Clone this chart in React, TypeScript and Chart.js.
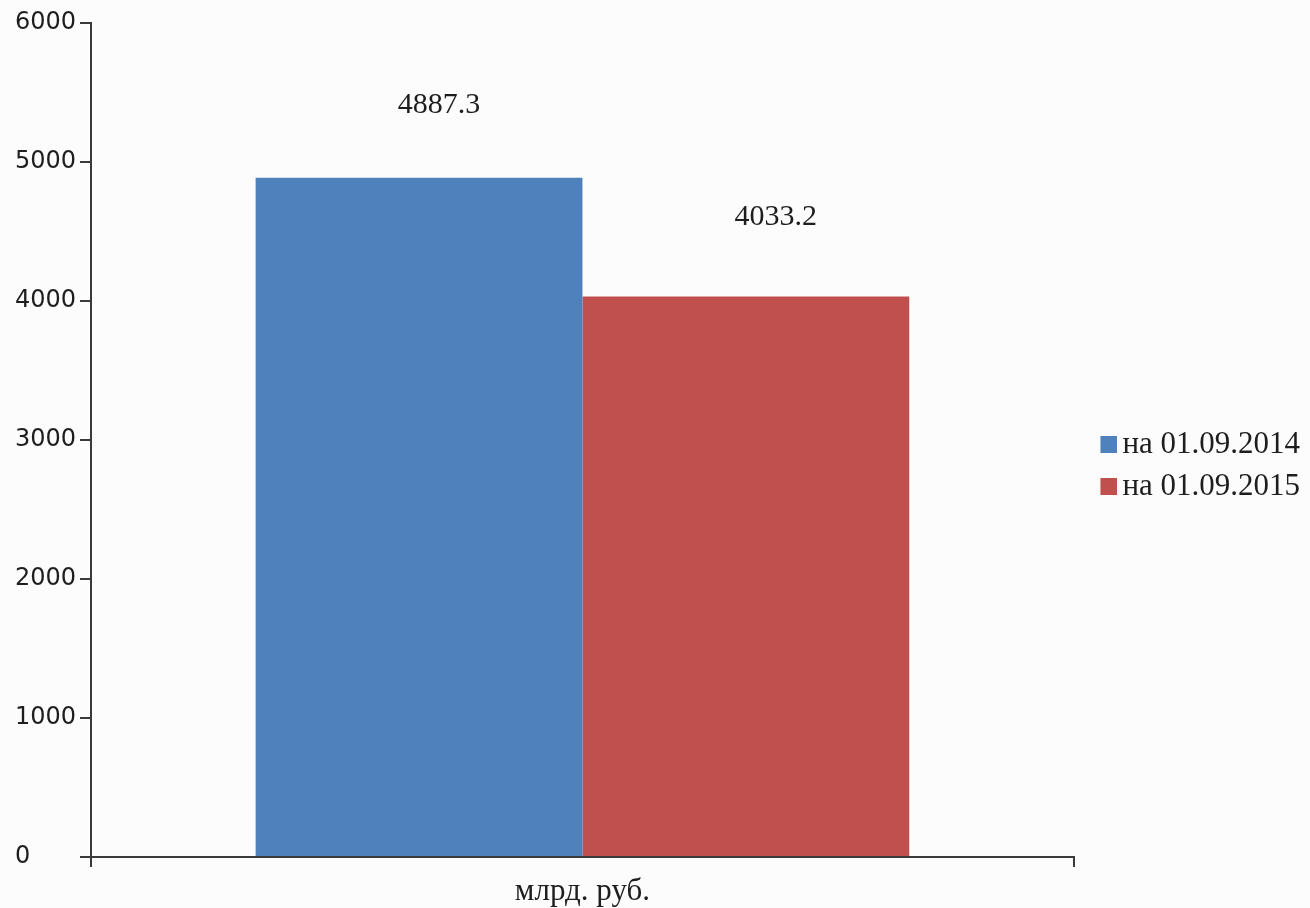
import React, { useEffect, useRef } from "react";
import { Chart, registerables } from "chart.js";

Chart.register(...registerables);

const categories = ["млрд. руб."];
const seriesLabels = ["на 01.09.2014", "на 01.09.2015"];
const series2014 = [4887.3];
const series2015 = [4033.2];
const seriesColors = ["#4F81BD", "#C0504D"];
const yTicks = [0, 1000, 2000, 3000, 4000, 5000, 6000];

const AXIS_COLOR = "#3a3a3a";
const TEXT_COLOR = "#1e1e1e";
const SERIF = "'Liberation Serif', 'Times New Roman', serif";
const SANS = "'DejaVu Sans', Verdana, sans-serif";

function makeSwatch(color: string): HTMLCanvasElement {
  const c = document.createElement("canvas");
  c.width = 21;
  c.height = 17;
  const g = c.getContext("2d")!;
  g.fillStyle = color;
  g.fillRect(4, 0, 17, 17);
  return c;
}

const labelOffsets = [
  { dx: 20, dy: 73 },
  { dx: 30, dy: 79 },
];

const valueLabelPlugin = {
  id: "valueLabels",
  afterDatasetsDraw(chart: any) {
    const ctx = chart.ctx;
    ctx.save();
    ctx.font = `30px ${SERIF}`;
    ctx.fillStyle = TEXT_COLOR;
    ctx.textAlign = "center";
    ctx.textBaseline = "middle";
    chart.data.datasets.forEach((ds: any, di: number) => {
      const meta = chart.getDatasetMeta(di);
      meta.data.forEach((bar: any, i: number) => {
        const v = ds.data[i] as number;
        const off = labelOffsets[di] || { dx: 0, dy: 76 };
        ctx.fillText(v.toFixed(1), bar.x + off.dx, bar.y - off.dy);
      });
    });
    ctx.restore();
  },
};

export default function App() {
  const ref = useRef<HTMLCanvasElement | null>(null);

  useEffect(() => {
    if (!ref.current) return;
    const swatches = seriesColors.map(makeSwatch);
    const chart = new Chart(ref.current, {
      type: "bar",
      data: {
        labels: categories,
        datasets: [
          {
            label: seriesLabels[0],
            data: series2014,
            backgroundColor: seriesColors[0],
            borderWidth: 0,
            categoryPercentage: 0.665,
            barPercentage: 1,
          },
          {
            label: seriesLabels[1],
            data: series2015,
            backgroundColor: seriesColors[1],
            borderWidth: 0,
            categoryPercentage: 0.665,
            barPercentage: 1,
          },
        ],
      },
      options: {
        animation: false,
        responsive: true,
        maintainAspectRatio: false,
        layout: { padding: { top: 23, right: 0, bottom: 0, left: 15 } },
        plugins: {
          tooltip: { enabled: false },
          legend: {
            position: "right",
            align: "center",
            labels: {
              usePointStyle: true,
              boxWidth: 0.01,
              boxHeight: 17,
              padding: 11,
              color: TEXT_COLOR,
              font: { family: SERIF, size: 31 },
              generateLabels: (ch: any) =>
                ch.data.datasets.map((ds: any, i: number) => ({
                  text: ds.label,
                  fillStyle: seriesColors[i],
                  strokeStyle: seriesColors[i],
                  lineWidth: 0,
                  pointStyle: swatches[i],
                  hidden: false,
                  datasetIndex: i,
                  fontColor: TEXT_COLOR,
                })),
            },
          },
        },
        scales: {
          x: {
            offset: true,
            grid: {
              display: true,
              offset: true,
              drawOnChartArea: false,
              drawTicks: true,
              tickLength: 10,
              color: AXIS_COLOR,
              lineWidth: 2,
            },
            border: { display: true, color: AXIS_COLOR, width: 2 },
            ticks: {
              color: TEXT_COLOR,
              font: { family: SERIF, size: 31 },
              padding: 6,
            },
            afterFit: (scale: any) => {
              scale.height = 51;
            },
          },
          y: {
            min: 0,
            max: 6000,
            afterBuildTicks: (scale: any) => {
              scale.ticks = yTicks.map((v) => ({ value: v }));
            },
            grid: {
              display: true,
              drawOnChartArea: false,
              drawTicks: true,
              tickLength: 11,
              color: AXIS_COLOR,
              lineWidth: 2,
            },
            border: { display: true, color: AXIS_COLOR, width: 2 },
            ticks: {
              color: TEXT_COLOR,
              font: { family: SANS, size: 24 },
              padding: 5,
              crossAlign: "far",
              callback: (v: any) => String(v),
            },
            afterFit: (scale: any) => {
              scale.width = 76;
            },
          },
          yGap: {
            type: "linear",
            position: "right",
            display: true,
            grid: { display: false },
            border: { display: false },
            ticks: { display: false },
            afterFit: (scale: any) => {
              scale.width = 22;
            },
          },
        },
      },
      plugins: [valueLabelPlugin],
    });
    return () => chart.destroy();
  }, []);

  return (
    <div
      style={{
        position: "fixed",
        left: 0,
        top: 0,
        width: 1310,
        height: 908,
        background: "#fcfcfc",
      }}
    >
      <canvas ref={ref} />
    </div>
  );
}
